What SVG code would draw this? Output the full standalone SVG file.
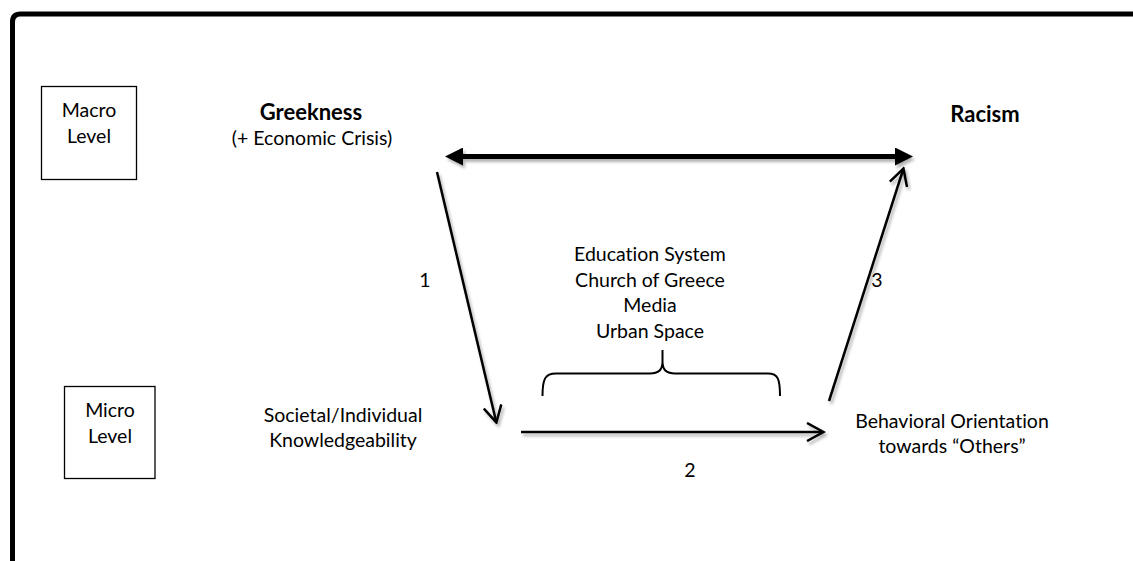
<svg xmlns="http://www.w3.org/2000/svg" width="1133" height="561" viewBox="0 0 1133 561">
<style>
text{font-family:Lato,"Liberation Sans",sans-serif;font-size:19.5px;fill:#000;text-anchor:middle;font-variant-ligatures:none}
.b{font-weight:bold;font-size:22px}
.box{fill:#fff;stroke:#000;stroke-width:1.3}
.thin{fill:none;stroke:#000;stroke-width:2.5}
.thick{fill:none;stroke:#000;stroke-width:5}
</style>
<defs>
<filter id="sh" x="-20%" y="-20%" width="140%" height="140%">
<feDropShadow dx="2" dy="3" stdDeviation="1.5" flood-color="#000" flood-opacity="0.3"/>
</filter>
<marker id="open" markerUnits="userSpaceOnUse" viewBox="0 0 20 20" markerWidth="20" markerHeight="20" refX="16.5" refY="10" orient="auto">
<path d="M1.5,1 L18,10 L1.5,19" fill="none" stroke="#000" stroke-width="2.5" stroke-linejoin="miter"/>
</marker>
<marker id="solid" markerUnits="userSpaceOnUse" viewBox="0 0 18 18" markerWidth="18" markerHeight="18" refX="8" refY="9" orient="auto-start-reverse">
<path d="M0,0 L18,9 L0,18 z" fill="#000"/>
</marker>
</defs>
<rect width="1133" height="561" fill="#fff"/>
<path id="frame" d="M12.5,561 V22 Q12.5,14 20.5,14 H1133" fill="none" stroke="#000" stroke-width="5"/>
<g id="macro-level">
<rect class="box" x="41.5" y="86.5" width="95" height="93"/>
<text x="89" y="117">Macro</text>
<text x="89" y="143">Level</text>
</g>
<g id="micro-level">
<rect class="box" x="64.5" y="386.5" width="90.5" height="92"/>
<text x="110" y="417">Micro</text>
<text x="110" y="443">Level</text>
</g>
<g id="greekness">
<text class="b" x="311" y="120">Greekness</text>
<text x="312" y="145">(+ Economic Crisis)</text>
</g>
<g id="racism">
<text class="b" x="985" y="121.5">Racism</text>
</g>
<g id="knowledgeability">
<text x="343" y="421.5">Societal/Individual</text>
<text x="343" y="446.5">Knowledgeability</text>
</g>
<g id="behavioral">
<text x="952" y="427.5">Behavioral Orientation</text>
<text x="952" y="453">towards “Others”</text>
</g>
<g id="institutions">
<text x="650" y="261">Education System</text>
<text x="650" y="286.5">Church of Greece</text>
<text x="650" y="312">Media</text>
<text x="650" y="337.5">Urban Space</text>
<path class="brace" d="M542.5,396 C542.5,379 545,373.5 556,373.5 L650,373.5 C658,373.5 662.5,370 662.5,362 L662.5,350 M662.5,362 C662.5,370 667,373.5 675,373.5 L768,373.5 C778,373.5 780,379 780,396" fill="none" stroke="#000" stroke-width="2"/>
</g>
<g id="connectors" filter="url(#sh)">
<line class="thick" x1="455" y1="156.5" x2="903" y2="156.5" marker-start="url(#solid)" marker-end="url(#solid)"/>
<line class="thin" x1="437" y1="172" x2="496" y2="421" marker-end="url(#open)"/>
<line class="thin" x1="521" y1="432" x2="822" y2="432" marker-end="url(#open)"/>
<line class="thin" x1="829" y1="401" x2="903" y2="170" marker-end="url(#open)"/>
</g>
<g id="labels">
<text x="425" y="287">1</text>
<text x="690" y="477">2</text>
<text x="877" y="287">3</text>
</g>
</svg>
